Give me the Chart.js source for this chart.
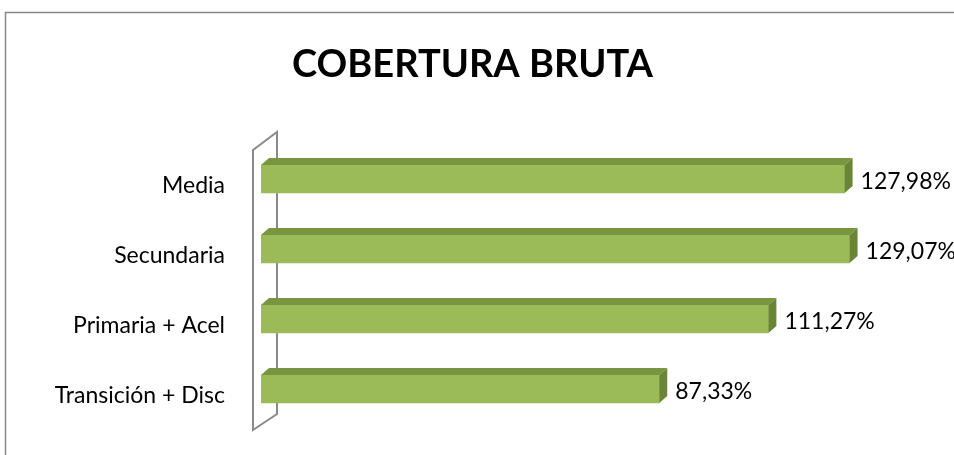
<!DOCTYPE html>
<html>
<head>
<meta charset="utf-8">
<script src="https://cdn.jsdelivr.net/npm/chart.js@4.4.1/dist/chart.umd.min.js"></script>
<style>
  html, body { margin: 0; padding: 0; background: #ffffff; }
  canvas { display: block; }
</style>
</head>
<body>
<canvas id="c" width="954" height="455"></canvas>
<script>
const categories = ["Media", "Secundaria", "Primaria + Acel", "Transición + Disc"];
const coberturaValues = [127.98, 129.07, 111.27, 87.33];
const chartTitle = "COBERTURA BRUTA";

const FONT = "Lato, 'Open Sans', sans-serif";
const FRONT = "#9BBB59";
const TOP = "#789640";
const SIDE = "#6A8536";
const DX = 8, DY = 7;

const bgBorder = {
  id: "bgBorder",
  beforeDraw(chart) {
    const ctx = chart.ctx;
    ctx.save();
    ctx.fillStyle = "#ffffff";
    ctx.fillRect(0, 0, chart.width, chart.height);
    ctx.strokeStyle = "#878787";
    ctx.lineWidth = 1.5;
    ctx.beginPath();
    ctx.moveTo(5.5, chart.height + 2);
    ctx.lineTo(5.5, 12.5);
    ctx.lineTo(chart.width + 2, 12.5);
    ctx.stroke();
    ctx.restore();
  }
};

const wall = {
  id: "wall",
  beforeDatasetsDraw(chart) {
    const a = chart.chartArea;
    const ctx = chart.ctx;
    ctx.save();
    ctx.strokeStyle = "#898989";
    ctx.lineWidth = 2;
    const lx = a.left - 8, rx = a.left + 16;
    ctx.beginPath();
    ctx.moveTo(lx, a.top + 6);
    ctx.lineTo(rx, a.top - 12);
    ctx.lineTo(rx, a.bottom - 10);
    ctx.lineTo(lx, a.bottom + 6);
    ctx.closePath();
    ctx.stroke();
    ctx.restore();
  }
};

const bars3d = {
  id: "bars3d",
  afterDatasetsDraw(chart) {
    const ctx = chart.ctx;
    const meta = chart.getDatasetMeta(0);
    ctx.save();
    meta.data.forEach((bar, i) => {
      const p = bar.getProps(["x", "y", "base", "height"], true);
      const x0 = p.base, x1 = p.x;
      const y0 = p.y - p.height / 2, y1 = p.y + p.height / 2;
      ctx.fillStyle = TOP;
      ctx.beginPath();
      ctx.moveTo(x0, y0);
      ctx.lineTo(x0 + DX, y0 - DY);
      ctx.lineTo(x1 + DX, y0 - DY);
      ctx.lineTo(x1, y0);
      ctx.closePath();
      ctx.fill();
      ctx.fillStyle = SIDE;
      ctx.beginPath();
      ctx.moveTo(x1, y0);
      ctx.lineTo(x1 + DX, y0 - DY);
      ctx.lineTo(x1 + DX, y1 - DY);
      ctx.lineTo(x1, y1);
      ctx.closePath();
      ctx.fill();
      const v = chart.data.datasets[0].data[i];
      ctx.fillStyle = "#000000";
      ctx.font = "23px " + FONT;
      ctx.textAlign = "left";
      ctx.textBaseline = "middle";
      ctx.fillText(v.toFixed(2).replace(".", ",") + "%", x1 + DX + 8, p.y + 3);
    });
    ctx.restore();
  }
};

new Chart(document.getElementById("c"), {
  type: "bar",
  data: {
    labels: categories,
    datasets: [{
      data: coberturaValues,
      backgroundColor: FRONT,
      borderWidth: 0,
      barThickness: 28,
      categoryPercentage: 1.0
    }]
  },
  options: {
    indexAxis: "y",
    responsive: false,
    animation: false,
    layout: { padding: { left: 0, right: 9, top: 0, bottom: 31 } },
    plugins: {
      legend: { display: false },
      tooltip: { enabled: false },
      title: {
        display: true,
        text: chartTitle,
        color: "#000000",
        font: { family: FONT, size: 38, weight: "bold", lineHeight: 1.2 },
        padding: { top: 42, bottom: 56.4 }
      }
    },
    scales: {
      x: {
        display: false,
        min: 0,
        max: 150
      },
      y: {
        afterFit(scale) {
          scale.width = 261;
          scale.paddingTop = 0;
          scale.paddingBottom = 0;
        },
        grid: { display: false, drawTicks: false },
        border: { display: false },
        ticks: {
          color: "#000000",
          font: { family: FONT, size: 23 },
          padding: 36,
          labelOffset: 7
        }
      }
    }
  },
  plugins: [bgBorder, wall, bars3d]
});
</script>
</body>
</html>
